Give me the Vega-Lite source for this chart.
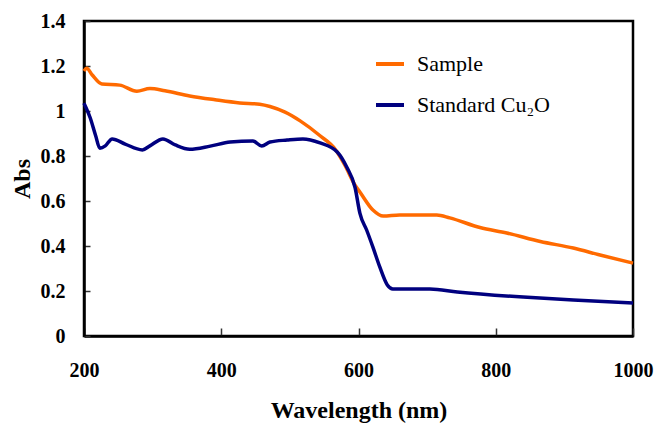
{
  "$schema": "https://vega.github.io/schema/vega-lite/v6.json",
  "width": 549,
  "height": 315,
  "autosize": {"type": "none"},
  "padding": {"left": 84, "top": 21, "right": 22, "bottom": 94},
  "background": "white",
  "config": {
    "view": {"stroke": "black", "strokeWidth": 2.5},
    "font": "Liberation Serif"
  },
  "data": {
    "values": [
      {"wl": 200, "abs": 1.178, "series": "Sample"},
      {"wl": 204, "abs": 1.19, "series": "Sample"},
      {"wl": 212, "abs": 1.16, "series": "Sample"},
      {"wl": 226, "abs": 1.12, "series": "Sample"},
      {"wl": 252, "abs": 1.115, "series": "Sample"},
      {"wl": 277, "abs": 1.088, "series": "Sample"},
      {"wl": 296, "abs": 1.1, "series": "Sample"},
      {"wl": 318, "abs": 1.09, "series": "Sample"},
      {"wl": 354, "abs": 1.067, "series": "Sample"},
      {"wl": 391, "abs": 1.05, "series": "Sample"},
      {"wl": 427, "abs": 1.036, "series": "Sample"},
      {"wl": 456, "abs": 1.03, "series": "Sample"},
      {"wl": 471, "abs": 1.02, "series": "Sample"},
      {"wl": 493, "abs": 0.995, "series": "Sample"},
      {"wl": 515, "abs": 0.956, "series": "Sample"},
      {"wl": 544, "abs": 0.89, "series": "Sample"},
      {"wl": 566, "abs": 0.83, "series": "Sample"},
      {"wl": 580, "abs": 0.76, "series": "Sample"},
      {"wl": 595, "abs": 0.67, "series": "Sample"},
      {"wl": 602, "abs": 0.64, "series": "Sample"},
      {"wl": 621, "abs": 0.56, "series": "Sample"},
      {"wl": 636, "abs": 0.533, "series": "Sample"},
      {"wl": 660, "abs": 0.538, "series": "Sample"},
      {"wl": 714, "abs": 0.538, "series": "Sample"},
      {"wl": 733, "abs": 0.525, "series": "Sample"},
      {"wl": 777, "abs": 0.482, "series": "Sample"},
      {"wl": 816, "abs": 0.458, "series": "Sample"},
      {"wl": 865, "abs": 0.42, "series": "Sample"},
      {"wl": 913, "abs": 0.391, "series": "Sample"},
      {"wl": 952, "abs": 0.36, "series": "Sample"},
      {"wl": 1000, "abs": 0.324, "series": "Sample"},
      {"wl": 200, "abs": 1.035, "series": "Standard Cu₂O"},
      {"wl": 209, "abs": 0.97, "series": "Standard Cu₂O"},
      {"wl": 217, "abs": 0.89, "series": "Standard Cu₂O"},
      {"wl": 223, "abs": 0.835, "series": "Standard Cu₂O"},
      {"wl": 231, "abs": 0.845, "series": "Standard Cu₂O"},
      {"wl": 241, "abs": 0.876, "series": "Standard Cu₂O"},
      {"wl": 260, "abs": 0.853, "series": "Standard Cu₂O"},
      {"wl": 285, "abs": 0.827, "series": "Standard Cu₂O"},
      {"wl": 296, "abs": 0.845, "series": "Standard Cu₂O"},
      {"wl": 315, "abs": 0.876, "series": "Standard Cu₂O"},
      {"wl": 333, "abs": 0.849, "series": "Standard Cu₂O"},
      {"wl": 354, "abs": 0.83, "series": "Standard Cu₂O"},
      {"wl": 384, "abs": 0.844, "series": "Standard Cu₂O"},
      {"wl": 413, "abs": 0.862, "series": "Standard Cu₂O"},
      {"wl": 446, "abs": 0.867, "series": "Standard Cu₂O"},
      {"wl": 459, "abs": 0.844, "series": "Standard Cu₂O"},
      {"wl": 471, "abs": 0.862, "series": "Standard Cu₂O"},
      {"wl": 496, "abs": 0.871, "series": "Standard Cu₂O"},
      {"wl": 519, "abs": 0.876, "series": "Standard Cu₂O"},
      {"wl": 544, "abs": 0.858, "series": "Standard Cu₂O"},
      {"wl": 569, "abs": 0.818, "series": "Standard Cu₂O"},
      {"wl": 583, "abs": 0.75, "series": "Standard Cu₂O"},
      {"wl": 595, "abs": 0.66, "series": "Standard Cu₂O"},
      {"wl": 602, "abs": 0.546, "series": "Standard Cu₂O"},
      {"wl": 612, "abs": 0.47, "series": "Standard Cu₂O"},
      {"wl": 621, "abs": 0.395, "series": "Standard Cu₂O"},
      {"wl": 631, "abs": 0.307, "series": "Standard Cu₂O"},
      {"wl": 642, "abs": 0.227, "series": "Standard Cu₂O"},
      {"wl": 650, "abs": 0.209, "series": "Standard Cu₂O"},
      {"wl": 704, "abs": 0.209, "series": "Standard Cu₂O"},
      {"wl": 744, "abs": 0.196, "series": "Standard Cu₂O"},
      {"wl": 840, "abs": 0.173, "series": "Standard Cu₂O"},
      {"wl": 913, "abs": 0.16, "series": "Standard Cu₂O"},
      {"wl": 1000, "abs": 0.147, "series": "Standard Cu₂O"}
    ]
  },
  "mark": {"type": "line", "strokeWidth": 3.5, "interpolate": "monotone"},
  "encoding": {
    "x": {
      "field": "wl",
      "type": "quantitative",
      "scale": {"domain": [200, 1000], "nice": false, "zero": false},
      "axis": {
        "values": [200, 400, 600, 800, 1000],
        "format": "d",
        "title": "Wavelength (nm)",
        "grid": false,
        "domainColor": "black",
        "domainWidth": 2.5,
        "ticks": true,
        "tickColor": "#333333",
        "tickSize": -8,
        "tickWidth": 1.5,
        "labelFlush": false,
        "labelFont": "Liberation Serif",
        "labelFontWeight": "bold",
        "labelFontSize": 20,
        "labelColor": "black",
        "labelPadding": 32,
        "titleFont": "Liberation Serif",
        "titleFontWeight": "bold",
        "titleFontSize": 24,
        "titleColor": "black",
        "titlePadding": 18
      }
    },
    "y": {
      "field": "abs",
      "type": "quantitative",
      "scale": {"domain": [0, 1.4], "nice": false},
      "axis": {
        "values": [0, 0.2, 0.4, 0.6, 0.8, 1, 1.2, 1.4],
        "format": ".1~f",
        "title": "Abs",
        "grid": false,
        "domainColor": "black",
        "domainWidth": 2.5,
        "ticks": true,
        "tickColor": "#333333",
        "tickSize": -6,
        "tickWidth": 1.5,
        "labelFlush": false,
        "labelFont": "Liberation Serif",
        "labelFontWeight": "bold",
        "labelFontSize": 20,
        "labelColor": "black",
        "labelPadding": 25,
        "titleFont": "Liberation Serif",
        "titleFontWeight": "bold",
        "titleFontSize": 24,
        "titleColor": "black",
        "titlePadding": 6
      }
    },
    "color": {
      "field": "series",
      "type": "nominal",
      "scale": {"domain": ["Sample", "Standard Cu₂O"], "range": ["#FF6A00", "#00007F"]},
      "legend": {
        "title": null,
        "orient": "none",
        "legendX": 290,
        "legendY": 27,
        "symbolType": "stroke",
        "symbolStrokeWidth": 4,
        "symbolSize": 784,
        "labelFont": "Liberation Serif",
        "labelFontSize": 22,
        "labelColor": "black",
        "labelOffset": 11,
        "rowPadding": 14,
        "labelLimit": 300
      }
    }
  }
}
